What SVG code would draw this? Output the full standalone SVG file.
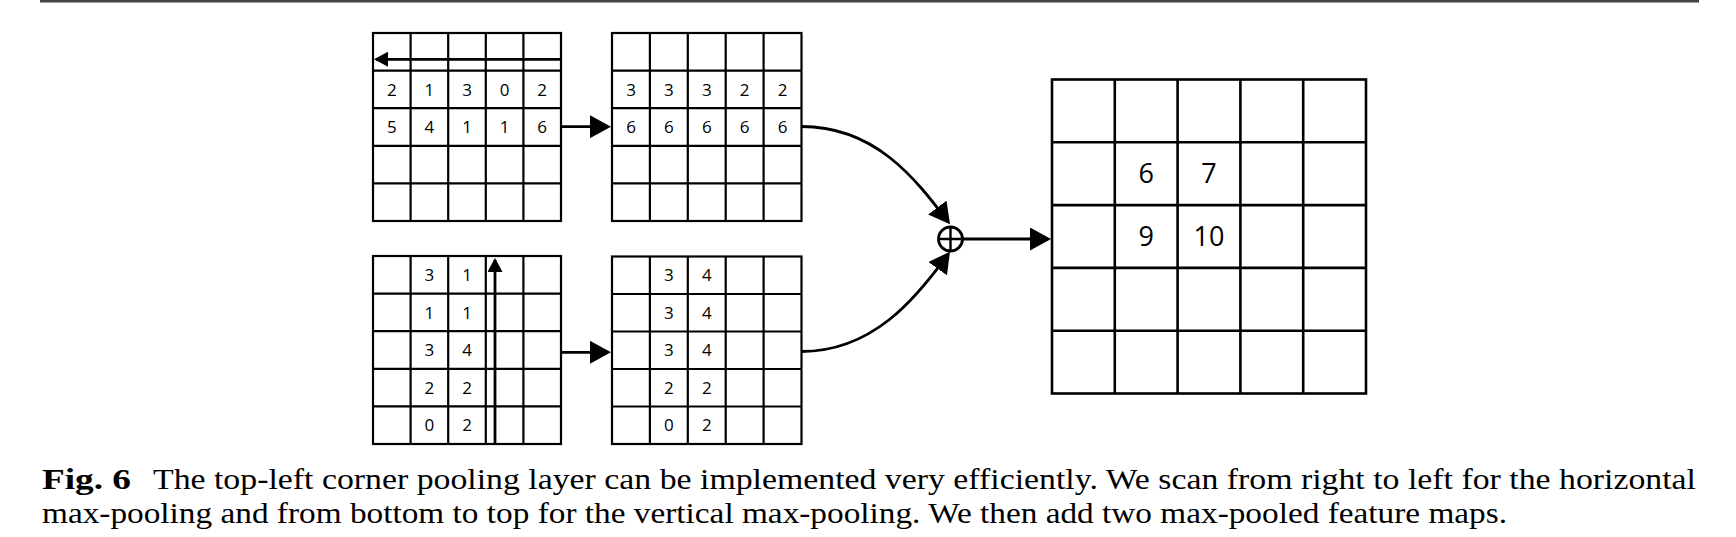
<svg xmlns="http://www.w3.org/2000/svg" width="1736" height="537" viewBox="0 0 1736 537">
<style>
.g{fill:none;stroke:#000;stroke-width:2.2}
.bg{fill:none;stroke:#000;stroke-width:2.6}
.n{font-family:"Open Sans","Noto Sans",sans-serif;font-size:17px;fill:#000;text-anchor:middle}
.nb{font-family:"Open Sans","Noto Sans",sans-serif;font-size:27px;fill:#000;text-anchor:middle}
.c{stroke:#000;stroke-width:2.8;fill:none}
.cap{font-family:"Liberation Serif",serif;font-size:30px;fill:#000}
</style>
<defs>
<marker id="ah" markerUnits="userSpaceOnUse" markerWidth="22" markerHeight="23" viewBox="0 0 22 23" refX="18" refY="11.5" orient="auto"><path d="M0,0 L21,11.5 L0,23 z" fill="#000"/></marker>
<marker id="as" markerUnits="userSpaceOnUse" markerWidth="15" markerHeight="16" viewBox="0 0 15 16" refX="12" refY="7.5" orient="auto"><path d="M0,0 L14,7.5 L0,15 z" fill="#000"/></marker>
</defs>
<rect x="40" y="0" width="1659" height="2.5" fill="#444"/>

<g id="grid-input-h">
<rect class="g" x="373" y="33" width="188" height="188"/>
<path class="g" d="M410.6,33V221M448.2,33V221M485.8,33V221M523.4,33V221M373,70.6H561M373,108.2H561M373,145.8H561M373,183.4H561"/>
<text class="n" x="391.8" y="95.5">2</text><text class="n" x="429.4" y="95.5">1</text><text class="n" x="467" y="95.5">3</text><text class="n" x="504.6" y="95.5">0</text><text class="n" x="542.2" y="95.5">2</text>
<text class="n" x="391.8" y="133.1">5</text><text class="n" x="429.4" y="133.1">4</text><text class="n" x="467" y="133.1">1</text><text class="n" x="504.6" y="133.1">1</text><text class="n" x="542.2" y="133.1">6</text>
</g>

<g id="grid-output-h">
<rect class="g" x="612" y="33" width="189.5" height="188"/>
<path class="g" d="M649.9,33V221M687.8,33V221M725.7,33V221M763.6,33V221M612,70.6H801.5M612,108.2H801.5M612,145.8H801.5M612,183.4H801.5"/>
<text class="n" x="631" y="95.5">3</text><text class="n" x="668.9" y="95.5">3</text><text class="n" x="706.8" y="95.5">3</text><text class="n" x="744.7" y="95.5">2</text><text class="n" x="782.6" y="95.5">2</text>
<text class="n" x="631" y="133.1">6</text><text class="n" x="668.9" y="133.1">6</text><text class="n" x="706.8" y="133.1">6</text><text class="n" x="744.7" y="133.1">6</text><text class="n" x="782.6" y="133.1">6</text>
</g>

<g id="grid-input-v">
<rect class="g" x="373" y="256" width="188" height="188"/>
<path class="g" d="M410.6,256V444M448.2,256V444M485.8,256V444M523.4,256V444M373,293.6H561M373,331.2H561M373,368.8H561M373,406.4H561"/>
<text class="n" x="429.4" y="280.9">3</text><text class="n" x="467" y="280.9">1</text>
<text class="n" x="429.4" y="318.5">1</text><text class="n" x="467" y="318.5">1</text>
<text class="n" x="429.4" y="356.1">3</text><text class="n" x="467" y="356.1">4</text>
<text class="n" x="429.4" y="393.7">2</text><text class="n" x="467" y="393.7">2</text>
<text class="n" x="429.4" y="431.3">0</text><text class="n" x="467" y="431.3">2</text>
</g>

<g id="grid-output-v">
<rect class="g" x="612" y="256.5" width="189.5" height="187.5"/>
<path class="g" d="M649.9,256.5V444M687.8,256.5V444M725.7,256.5V444M763.6,256.5V444M612,294H801.5M612,331.5H801.5M612,369H801.5M612,406.5H801.5"/>
<text class="n" x="668.9" y="281.3">3</text><text class="n" x="706.8" y="281.3">4</text>
<text class="n" x="668.9" y="318.8">3</text><text class="n" x="706.8" y="318.8">4</text>
<text class="n" x="668.9" y="356.3">3</text><text class="n" x="706.8" y="356.3">4</text>
<text class="n" x="668.9" y="393.8">2</text><text class="n" x="706.8" y="393.8">2</text>
<text class="n" x="668.9" y="431.3">0</text><text class="n" x="706.8" y="431.3">2</text>
</g>

<g id="sum">
<circle cx="950.5" cy="239" r="12" fill="#fff" stroke="#000" stroke-width="2.8"/>
<path d="M938.5,239H962.5M950.5,227V251" stroke="#000" stroke-width="2.4"/>
</g>

<g id="grid-result">
<rect class="bg" x="1052" y="79.5" width="314" height="314"/>
<path class="bg" d="M1114.8,79.5V393.5M1177.6,79.5V393.5M1240.4,79.5V393.5M1303.2,79.5V393.5M1052,142.3H1366M1052,205.1H1366M1052,267.9H1366M1052,330.7H1366"/>
<text class="nb" x="1146.2" y="183.4">6</text><text class="nb" x="1209" y="183.4">7</text>
<text class="nb" x="1146.2" y="246.2">9</text><text class="nb" x="1209" y="246.2">10</text>
</g>

<g id="connectors">
<path class="c" d="M561,59.3H376" marker-end="url(#as)"/>
<path class="c" d="M495,445V260" marker-end="url(#as)"/>
<path class="c" d="M561,126.7H608" marker-end="url(#ah)"/>
<path class="c" d="M561,352.3H608" marker-end="url(#ah)"/>
<path class="c" d="M801.5,126.5C875,126.5 915,178 948.2,221.9" marker-end="url(#ah)"/>
<path class="c" d="M801.5,351.5C872,351.5 915,300 948.2,254.1" marker-end="url(#ah)"/>
<path class="c" d="M962.5,239H1048" marker-end="url(#ah)"/>
</g>

<g id="caption">
<text class="cap" x="42" y="489.3" font-weight="bold" textLength="89" lengthAdjust="spacingAndGlyphs">Fig. 6</text>
<text class="cap" x="153" y="489.3" textLength="1543" lengthAdjust="spacingAndGlyphs">The top-left corner pooling layer can be implemented very efficiently. We scan from right to left for the horizontal</text>
<text class="cap" x="42" y="522.7" textLength="1465" lengthAdjust="spacingAndGlyphs">max-pooling and from bottom to top for the vertical max-pooling. We then add two max-pooled feature maps.</text>
</g>
</svg>
